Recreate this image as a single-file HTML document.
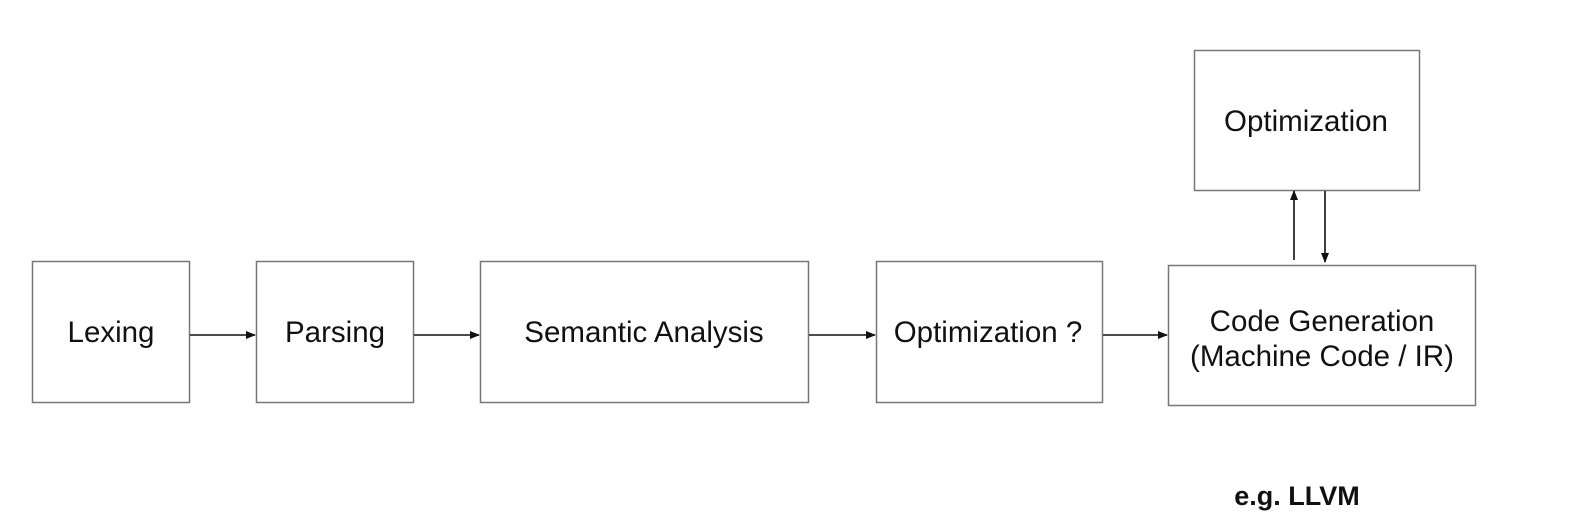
<!DOCTYPE html>
<html><head><style>
html,body{margin:0;padding:0;background:#fff;}
svg{display:block;}
text{font-family:"Liberation Sans",sans-serif;fill:#111;}
</style></head><body>
<svg width="1572" height="531" viewBox="0 0 1572 531" xmlns="http://www.w3.org/2000/svg">
<defs><marker id="a" markerWidth="10" markerHeight="8" refX="9" refY="4" orient="auto" markerUnits="userSpaceOnUse"><path d="M0,0 L10,4 L0,8 z" fill="#111"/></marker></defs>
<g fill="#fff" stroke="#777" stroke-width="1.5">
<rect x="32.5" y="261.5" width="157" height="141"/>
<rect x="256.5" y="261.5" width="157" height="141"/>
<rect x="480.5" y="261.5" width="328" height="141"/>
<rect x="876.5" y="261.5" width="226" height="141"/>
<rect x="1168.5" y="265.5" width="307" height="140"/>
<rect x="1194.5" y="50.5" width="225" height="140"/>
</g>
<g stroke="#111" stroke-width="1.6" marker-end="url(#a)">
<line x1="190" y1="335" x2="255" y2="335"/>
<line x1="414" y1="335" x2="479" y2="335"/>
<line x1="809" y1="335" x2="875" y2="335"/>
<line x1="1103" y1="335" x2="1167" y2="335"/>
<line x1="1294" y1="260" x2="1294" y2="191"/>
<line x1="1325" y1="191" x2="1325" y2="262"/>
</g>
<g font-size="29.5" text-anchor="middle">
<text x="111" y="342">Lexing</text>
<text x="335" y="342">Parsing</text>
<text x="644" y="342">Semantic Analysis</text>
<text x="988" y="342">Optimization ?</text>
<text x="1322" y="331">Code Generation</text>
<text x="1322" y="366">(Machine Code / IR)</text>
<text x="1306" y="131">Optimization</text>
</g>
<text x="1297" y="505" font-size="27" font-weight="bold" text-anchor="middle">e.g. LLVM</text>
</svg>
</body></html>
